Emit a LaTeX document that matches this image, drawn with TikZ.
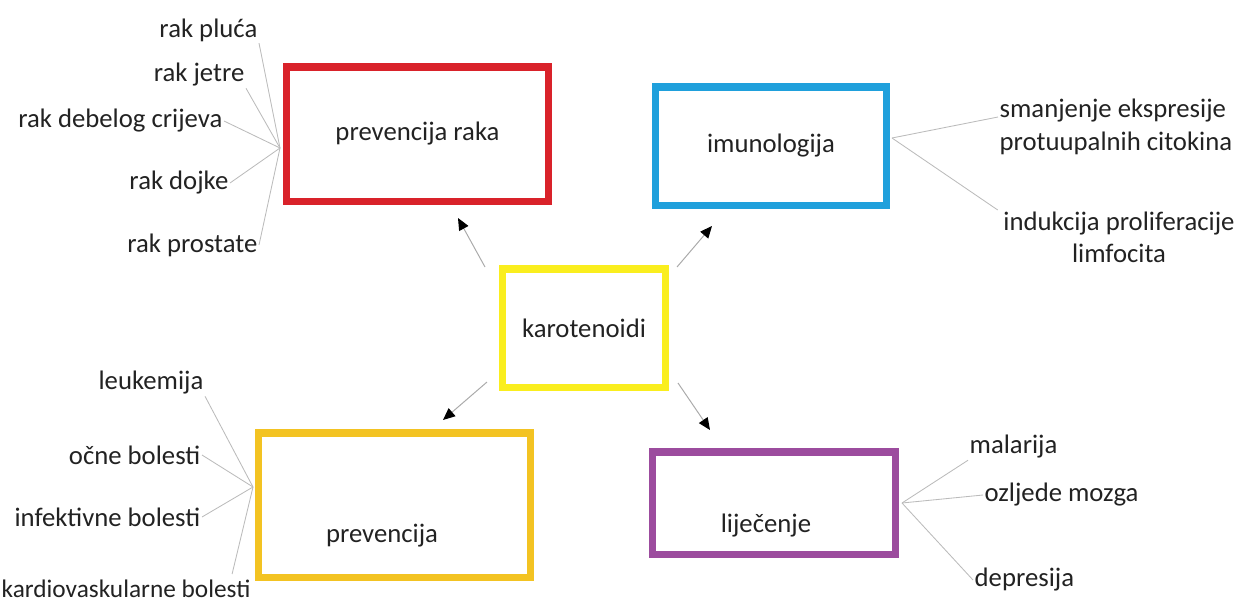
\documentclass[tikz,border=0pt]{standalone}
\usepackage{fontspec}
\setmainfont{Carlito}
\usepackage{xcolor}
\usepackage{tikz}
\usetikzlibrary{arrows.meta}
\definecolor{rakred}{HTML}{D9222A}
\definecolor{imublue}{HTML}{1FA0DC}
\definecolor{karyellow}{HTML}{FAEE1E}
\definecolor{prevgold}{HTML}{F3C322}
\definecolor{lijpurple}{HTML}{9C4C9E}
\definecolor{txt}{HTML}{222222}
\definecolor{twiggray}{HTML}{BBBBBB}
\definecolor{arrgray}{HTML}{AAAAAA}
\tikzset{
  box/.style={draw, line width=5pt, inner sep=0pt},
  lab/.style={text=txt, font=\fontsize{19}{23}\selectfont, inner sep=1pt},
  twig/.style={draw=twiggray, line width=0.6pt},
  arr/.style={draw=arrgray, line width=0.7pt, -{Triangle[length=3mm,width=2.6mm,color=black]}},
}
\begin{document}
\begin{tikzpicture}[x=0.025cm,y=-0.025cm]
  \useasboundingbox (0,0) rectangle (1244,613);

  \node[box,draw=rakred,minimum width=6.525cm,minimum height=3.35cm,lab] (rak) at (417.5,134) {prevencija raka};
  \node[box,draw=imublue,minimum width=5.75cm,minimum height=2.95cm,lab] (imu) at (771,146) {imunologija};
  \node[box,draw=karyellow,minimum width=4.05cm,minimum height=2.95cm,lab] (kar) at (584,328) {karotenoidi};
  \node[box,draw=prevgold,minimum width=6.775cm,minimum height=3.6cm] (prev) at (394.5,505) {};
  \node[lab] (prevtxt) at (382,536) {prevencija};
  \node[box,draw=lijpurple,minimum width=6.05cm,minimum height=2.55cm] (lij) at (774,503) {};
  \node[lab] (lijtxt) at (766,526) {liječenje};

  \coordinate (hubR) at (280,148);
  \coordinate (hubI) at (892,138);
  \coordinate (hubP) at (253,487);
  \coordinate (hubL) at (902,503);

  \node[lab,anchor=east] (pluca) at (259,30) {rak pluća};
  \node[lab,anchor=east] (jetre) at (246,75) {rak jetre};
  \node[lab,anchor=east] (debelo) at (224,121) {rak debelog crijeva};
  \node[lab,anchor=east] (dojka) at (230,183) {rak dojke};
  \node[lab,anchor=east] (prostata) at (259,245) {rak prostate};
  \draw[twig] (pluca.south east) -- (hubR);
  \draw[twig] (jetre.south east) -- (hubR);
  \draw[twig] (debelo.east) -- (hubR);
  \draw[twig] (dojka.east) -- (hubR);
  \draw[twig] (prostata.east) -- (hubR);

  \node[lab,anchor=west,align=left] (citok) at (998,127) {smanjenje ekspresije\\protuupalnih citokina};
  \node[lab,anchor=north,align=center] (limfo) at (1119,210) {indukcija proliferacije\\limfocita};
  \draw[twig] (hubI) -- ([yshift=0.25cm]citok.west);
  \draw[twig] (hubI) -- ([xshift=-0.1cm]limfo.north west);

  \node[lab,anchor=east] (leuk) at (205,383) {leukemija};
  \node[lab,anchor=east] (ocne) at (202,455) {očne bolesti};
  \node[lab,anchor=east] (infek) at (202,517) {infektivne bolesti};
  \node[lab,anchor=north west,font=\fontsize{18}{22}\selectfont] (kardio) at (0,578) {kardiovaskularne bolesti};
  \draw[twig] (leuk.south east) -- (hubP);
  \draw[twig] (ocne.east) -- (hubP);
  \draw[twig] (infek.east) -- (hubP);
  \draw[twig] ([xshift=-0.5cm,yshift=0.1cm]kardio.north east) -- (hubP);

  \node[lab,anchor=west] (malar) at (968,447) {malarija};
  \node[lab,anchor=west] (ozlj) at (983,495) {ozljede mozga};
  \node[lab,anchor=west] (depr) at (973,580) {depresija};
  \draw[twig] (hubL) -- (malar.south west);
  \draw[twig] (hubL) -- (ozlj.west);
  \draw[twig] (hubL) -- (depr.west);

  \coordinate (toRakS) at (485,267);
  \coordinate (toRakE) at (458,218);
  \coordinate (toImuS) at (677,267);
  \coordinate (toImuE) at (712,226);
  \coordinate (toPrevS) at (487,382);
  \coordinate (toPrevE) at (443,420);
  \coordinate (toLijS) at (678,383);
  \coordinate (toLijE) at (710,430);
  \draw[arr] (toRakS) -- (toRakE);
  \draw[arr] (toImuS) -- (toImuE);
  \draw[arr] (toPrevS) -- (toPrevE);
  \draw[arr] (toLijS) -- (toLijE);
\end{tikzpicture}
\end{document}
